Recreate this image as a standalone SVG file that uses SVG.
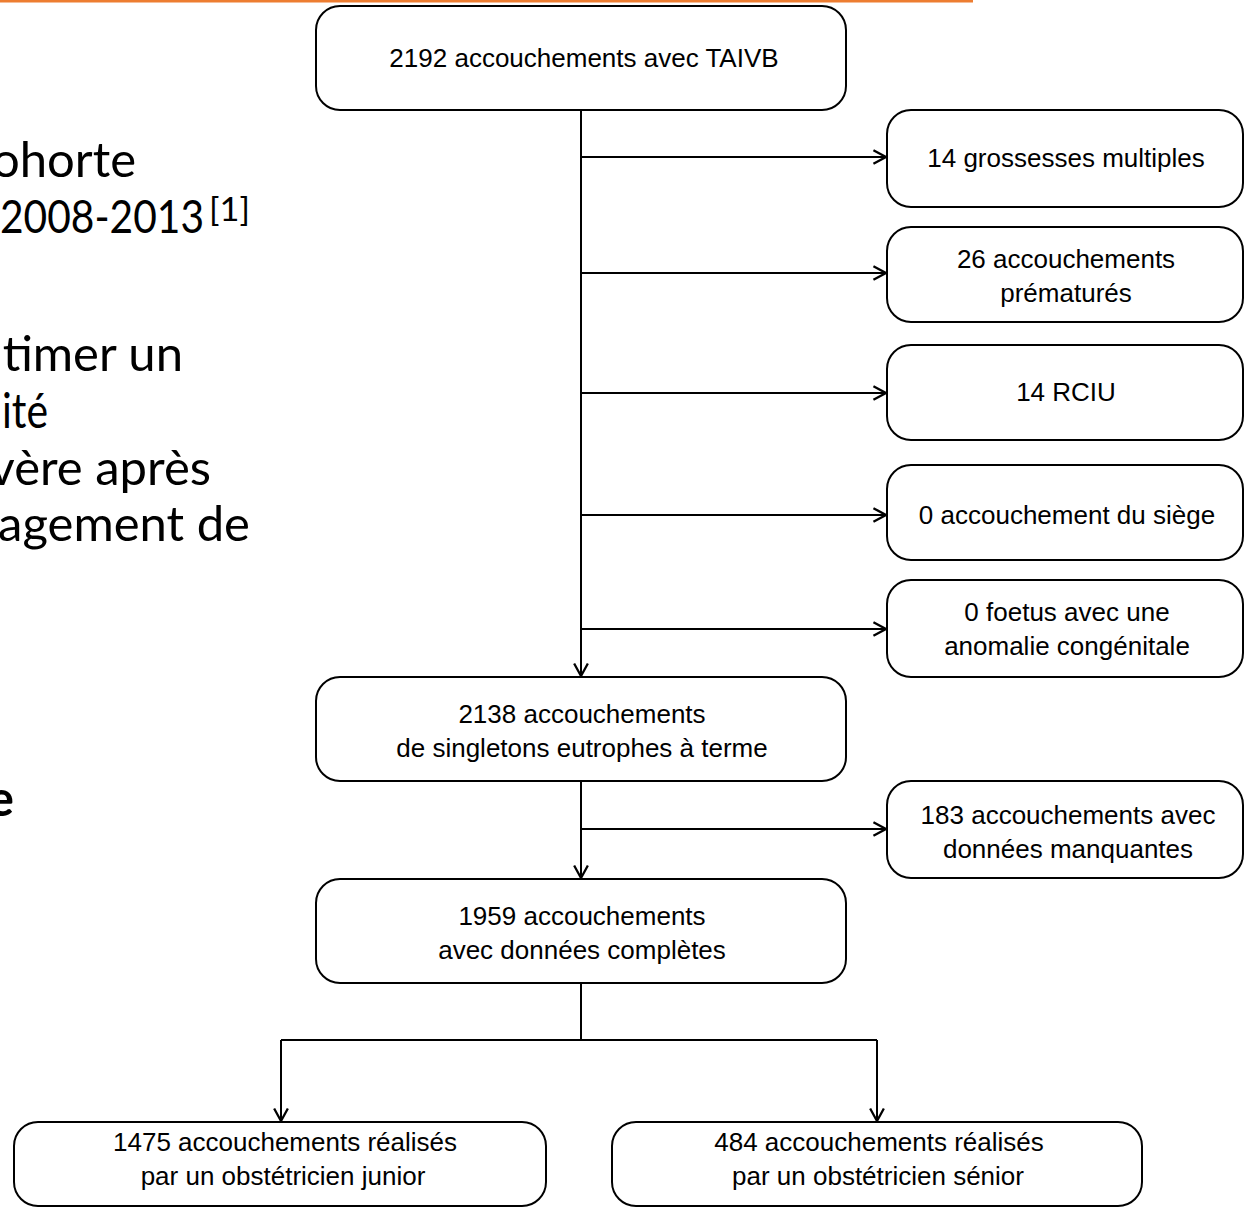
<svg xmlns="http://www.w3.org/2000/svg" width="1245" height="1207" viewBox="0 0 1245 1207">
<defs>
<style>
.box{fill:#fff;stroke:#000;stroke-width:2}
.t{font-family:"Liberation Sans",Arial,sans-serif;font-size:26px;fill:#000;text-anchor:middle}
.side{font-family:Lato,"Open Sans",sans-serif;font-size:49px;fill:#000;text-anchor:end}
.sl{text-anchor:start}
.con{fill:none;stroke:#000;stroke-width:2}
</style>
<marker id="arr" markerUnits="userSpaceOnUse" markerWidth="16" markerHeight="16" refX="12" refY="7" orient="auto" viewBox="0 0 14 14">
<path d="M1,1 L12,7 L1,13" fill="none" stroke="#000" stroke-width="2"/>
</marker>
</defs>
<rect width="1245" height="1207" fill="#fff"/>
<line x1="0" y1="1.2" x2="973" y2="1.2" stroke="#ED7D31" stroke-width="2.8"/>
<g id="sidetext">
<text class="side" x="136" y="177">ohorte</text>
<text class="side sl" x="0" y="233" style="font-size:47px" textLength="204" lengthAdjust="spacingAndGlyphs">2008-2013</text>
<text class="side sl" x="209" y="221" style="font-size:32px" textLength="41" lengthAdjust="spacingAndGlyphs">[1]</text>
<text class="side" x="183" y="371">timer un</text>
<text class="side sl" x="2" y="428" textLength="46" lengthAdjust="spacingAndGlyphs">ité</text>
<text class="side" x="211" y="485">vère après</text>
<text class="side" x="250" y="541">agement de</text>
<text class="side" x="14" y="816" style="font-weight:bold">e</text>
</g>
<g id="connectors">
<path class="con" d="M581,110 V676" marker-end="url(#arr)"/>
<path class="con" d="M581,157 H886" marker-end="url(#arr)"/>
<path class="con" d="M581,273 H886" marker-end="url(#arr)"/>
<path class="con" d="M581,393 H886" marker-end="url(#arr)"/>
<path class="con" d="M581,515 H886" marker-end="url(#arr)"/>
<path class="con" d="M581,629 H886" marker-end="url(#arr)"/>
<path class="con" d="M581,781 V878" marker-end="url(#arr)"/>
<path class="con" d="M581,829 H886" marker-end="url(#arr)"/>
<path class="con" d="M581,983 V1040 M281,1040 H877"/>
<path class="con" d="M281,1040 V1121" marker-end="url(#arr)"/>
<path class="con" d="M877,1040 V1121" marker-end="url(#arr)"/>
</g>
<g id="n-total"><rect class="box" x="316" y="6" width="530" height="104" rx="24"/><text class="t" x="584" y="67">2192 accouchements avec TAIVB</text></g>
<g id="n-multiples"><rect class="box" x="887" y="110" width="356" height="97" rx="24"/><text class="t" x="1066" y="167">14 grossesses multiples</text></g>
<g id="n-prema"><rect class="box" x="887" y="227" width="356" height="95" rx="24"/><text class="t" x="1066" y="268">26 accouchements</text><text class="t" x="1066" y="302">prématurés</text></g>
<g id="n-rciu"><rect class="box" x="887" y="345" width="356" height="95" rx="24"/><text class="t" x="1066" y="401">14 RCIU</text></g>
<g id="n-siege"><rect class="box" x="887" y="465" width="356" height="95" rx="24"/><text class="t" x="1067" y="524">0 accouchement du siège</text></g>
<g id="n-anomalie"><rect class="box" x="887" y="580" width="356" height="97" rx="24"/><text class="t" x="1067" y="621">0 foetus avec une</text><text class="t" x="1067" y="655">anomalie congénitale</text></g>
<g id="n-singletons"><rect class="box" x="316" y="677" width="530" height="104" rx="24"/><text class="t" x="582" y="723">2138 accouchements</text><text class="t" x="582" y="757">de singletons eutrophes à terme</text></g>
<g id="n-manquantes"><rect class="box" x="887" y="781" width="356" height="97" rx="24"/><text class="t" x="1068" y="824">183 accouchements avec</text><text class="t" x="1068" y="858">données manquantes</text></g>
<g id="n-completes"><rect class="box" x="316" y="879" width="530" height="104" rx="24"/><text class="t" x="582" y="925">1959 accouchements</text><text class="t" x="582" y="959">avec données complètes</text></g>
<g id="n-junior"><rect class="box" x="14" y="1122" width="532" height="84" rx="24"/><text class="t" x="285" y="1151">1475 accouchements réalisés</text><text class="t" x="283" y="1185">par un obstétricien junior</text></g>
<g id="n-senior"><rect class="box" x="612" y="1122" width="530" height="84" rx="24"/><text class="t" x="879" y="1151">484 accouchements réalisés</text><text class="t" x="878" y="1185">par un obstétricien sénior</text></g>
</svg>
